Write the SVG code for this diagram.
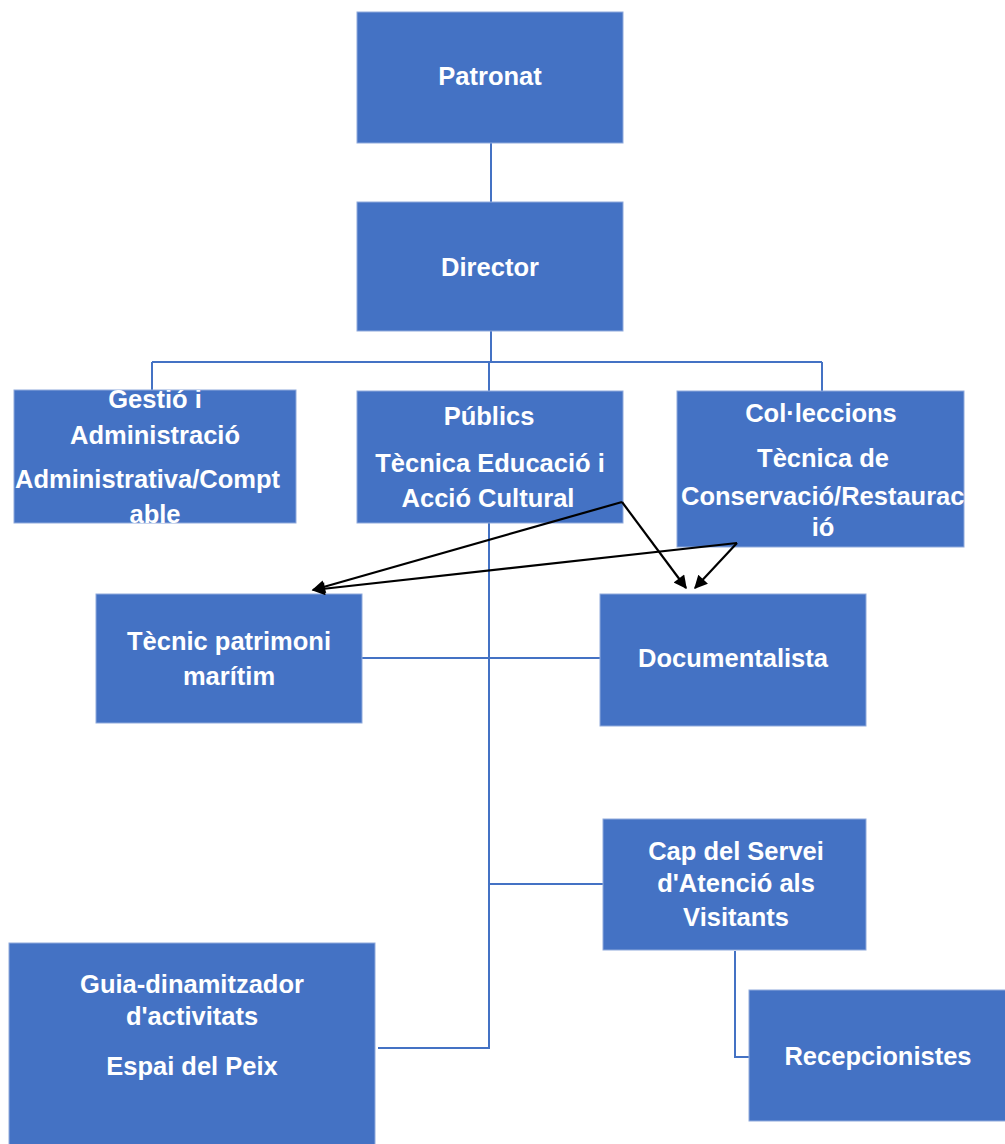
<svg xmlns="http://www.w3.org/2000/svg" width="1005" height="1144" viewBox="0 0 1005 1144">
<style>
.box{fill:#4472C4;stroke:#8FAADC;stroke-width:1}
.t{fill:#fff;font-family:"Liberation Sans",Arial,sans-serif;font-size:25.5px;font-weight:bold;text-anchor:middle}
.ts{text-anchor:start}
.c{stroke:#4472C4;stroke-width:2;fill:none}
.a{stroke:#000;stroke-width:2.2;fill:none;marker-end:url(#ah)}
</style>
<defs>
<marker id="ah" viewBox="0 0 10 10" refX="9" refY="5" markerWidth="7" markerHeight="6" orient="auto" markerUnits="strokeWidth">
<path d="M0,0 L10,5 L0,10 z" fill="#000"/>
</marker>
<clipPath id="cg"><rect x="14" y="390" width="282" height="133"/></clipPath>
<clipPath id="cc"><rect x="677" y="391" width="287" height="156"/></clipPath>
</defs>
<rect width="1005" height="1144" fill="#fff"/>
<g id="connectors">
<line class="c" x1="491" y1="143" x2="491" y2="202"/>
<path class="c" d="M491,331 V362 M152,362 H822 M152,362 V390 M489,362 V391 M822,362 V391"/>
<path class="c" d="M489,523 V1048 H378 M489,884 H603"/>
<path class="c" d="M362,658 H600"/>
<path class="c" d="M735,951 V1057 H749"/>
</g>
<g id="patronat"><rect class="box" x="357" y="12" width="266" height="131"/><text class="t" x="490" y="85">Patronat</text></g>
<g id="director"><rect class="box" x="357" y="202" width="266" height="129"/><text class="t" x="490" y="276">Director</text></g>
<g id="gestio"><rect class="box" x="14" y="390" width="282" height="133"/>
<g clip-path="url(#cg)">
<text class="t" x="155" y="408">Gestió i</text>
<text class="t" x="155" y="444">Administració</text>
<text class="t ts" x="15" y="488">Administrativa/Compt</text>
<text class="t" x="155" y="523">able</text></g></g>
<g id="publics"><rect class="box" x="357" y="391" width="266" height="132"/>
<text class="t" x="489" y="425">Públics</text>
<text class="t" x="490" y="472">Tècnica Educació i</text>
<text class="t" x="488" y="507">Acció Cultural</text></g>
<g id="colleccions"><rect class="box" x="677" y="391" width="287" height="156"/>
<g clip-path="url(#cc)">
<text class="t" x="821" y="422">Col·leccions</text>
<text class="t" x="823" y="467">Tècnica de</text>
<text class="t ts" x="681" y="505">Conservació/Restaurac</text>
<text class="t" x="823" y="536">ió</text></g></g>
<g id="tecnic"><rect class="box" x="96" y="594" width="266" height="129"/>
<text class="t" x="229" y="650">Tècnic patrimoni</text>
<text class="t" x="229" y="685">marítim</text></g>
<g id="documentalista"><rect class="box" x="600" y="594" width="266" height="132"/>
<text class="t" x="733" y="667">Documentalista</text></g>
<g id="cap"><rect class="box" x="603" y="819" width="263" height="131"/>
<text class="t" x="736" y="860">Cap del Servei</text>
<text class="t" x="736" y="892">d'Atenció als</text>
<text class="t" x="736" y="926">Visitants</text></g>
<g id="recepcionistes"><rect class="box" x="749" y="990" width="260" height="131"/>
<text class="t" x="878" y="1065">Recepcionistes</text></g>
<g id="guia"><rect class="box" x="9" y="943" width="366" height="210"/>
<text class="t" x="192" y="993">Guia-dinamitzador</text>
<text class="t" x="192" y="1025">d'activitats</text>
<text class="t" x="192" y="1075">Espai del Peix</text></g>
<g id="arrows">
<line class="a" x1="622" y1="502" x2="313" y2="590"/>
<line class="a" x1="622" y1="502" x2="686" y2="588"/>
<line class="a" x1="737" y1="543" x2="313" y2="590"/>
<line class="a" x1="737" y1="543" x2="695" y2="588"/>
</g>
</svg>
